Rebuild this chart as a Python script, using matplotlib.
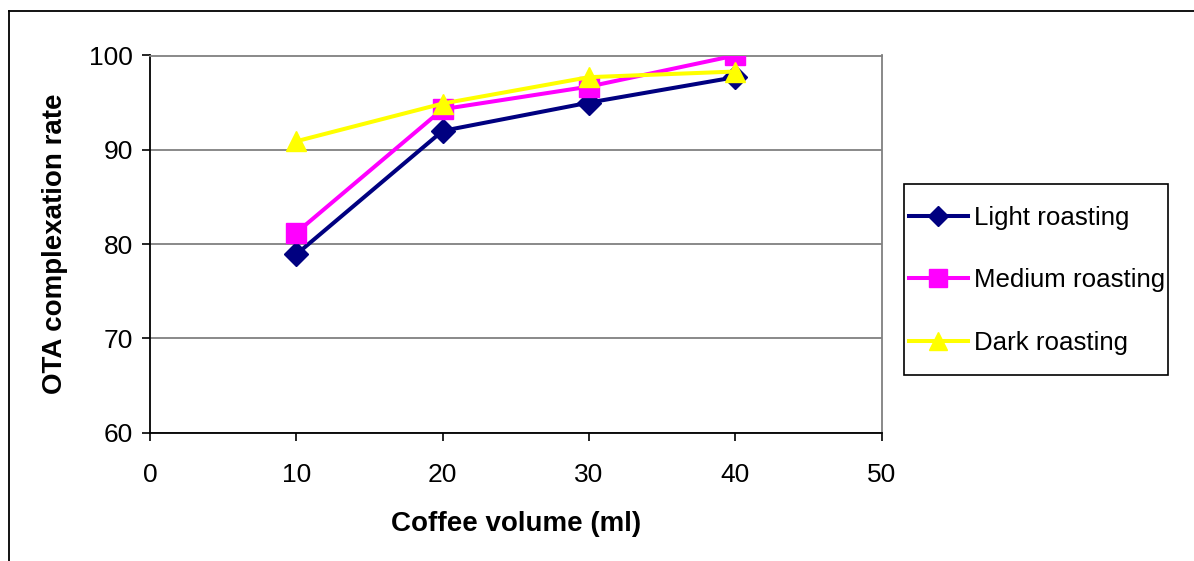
import matplotlib
matplotlib.use("Agg")
import matplotlib.pyplot as plt
from matplotlib.lines import Line2D
from matplotlib.patches import Rectangle

plt.rcParams['font.family'] = ['Liberation Sans', 'DejaVu Sans']

# Coffee volume (ml) and OTA complexation rate per roasting degree
volume = [10, 20, 30, 40]
light = [78.9, 92.0, 95.0, 97.7]
medium = [81.2, 94.3, 96.7, 100.0]
dark = [90.9, 94.9, 97.7, 98.3]

series_names = ["Light roasting", "Medium roasting", "Dark roasting"]
x_ticks = [0, 10, 20, 30, 40, 50]
y_ticks = [60, 70, 80, 90, 100]

W, H = 1194, 561
fig = plt.figure(figsize=(W / 100, H / 100), dpi=100)
ax = fig.add_axes([150 / W, 1 - 432.5 / H, (881.5 - 150) / W, (432.5 - 55.5) / H])

lw = 2.9
ax.plot(volume, light, color="#000080", lw=lw, marker="D", ms=12,
        mec="#000080", mew=1, label=series_names[0], zorder=3)
ax.plot(volume, medium, color="#FF00FF", lw=lw, marker="s", ms=14.5,
        mec="#FF00FF", mew=1, label=series_names[1], zorder=4)
ax.plot(volume, dark, color="#FFFF00", lw=lw, marker="^", ms=15,
        mec="#FFFF00", mew=1, label=series_names[2], zorder=5)

ax.set_xlim(0, 50)
ax.set_ylim(60, 100)
ax.set_xticks(x_ticks)
ax.set_yticks(y_ticks)
ax.grid(axis="y", color="#808080", lw=1.3)
ax.set_axisbelow(True)

for side in ("left", "bottom"):
    ax.spines[side].set_color("#000000")
    ax.spines[side].set_linewidth(1.3)
for side in ("top", "right"):
    ax.spines[side].set_color("#808080")
    ax.spines[side].set_linewidth(1.3)

ax.tick_params(axis="both", direction="out", length=6, width=1.2,
               labelsize=19, colors="#000000")
ax.tick_params(axis="x", pad=16)
ax.tick_params(axis="y", pad=6.5)

ax.set_xlabel("Coffee volume (ml)", fontsize=20, fontweight="bold", labelpad=17)
ax.set_ylabel("OTA complexation rate", fontsize=20, fontweight="bold", labelpad=15)

# legend entries without frame; the box is drawn separately
leg = fig.legend(loc="upper left", bbox_to_anchor=(906 / W, 1 - 203 / H),
                 fontsize=18.6, frameon=False,
                 handlelength=2.3, handletextpad=0.22, labelspacing=1.5,
                 borderpad=0.1, borderaxespad=0, markerscale=0.85)
fig.add_artist(Rectangle((904 / W, 1 - 374.5 / H), (1167.5 - 904) / W, (374.5 - 183.5) / H,
                         transform=fig.transFigure, fill=False,
                         edgecolor="#000000", lw=1.2))

# outer chart frame (top and left edges)
fig.add_artist(Line2D([9 / W, 1], [1 - 11 / H, 1 - 11 / H], color="#000000", lw=1.3))
fig.add_artist(Line2D([9 / W, 9 / W], [0, 1 - 11 / H], color="#000000", lw=1.3))

fig.savefig("out.png", dpi=100)
